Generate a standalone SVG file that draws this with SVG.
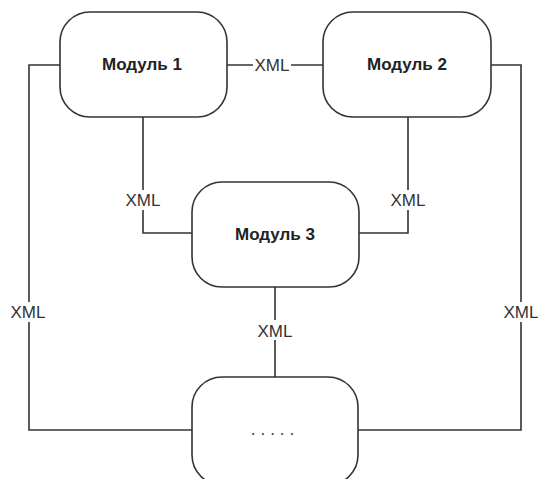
<svg xmlns="http://www.w3.org/2000/svg" width="538" height="479" viewBox="0 0 538 479">
<style>
.box{fill:#fff;stroke:#333;stroke-width:1.6}
.ln{fill:none;stroke:#333;stroke-width:1.6}
.t{font-family:"Liberation Sans",Arial,sans-serif;font-size:17px;font-weight:bold;fill:#222;text-anchor:middle}
.x{font-family:"Liberation Sans",Arial,sans-serif;font-size:17px;fill:#333;text-anchor:middle}
.lb{fill:#fff}
</style>
<rect width="538" height="479" fill="#fff"/>
<g id="connectors">
<path class="ln" d="M227,65 H323"/>
<path class="ln" d="M60,65 H29 V430 H192"/>
<path class="ln" d="M491,65 H521 V430 H358"/>
<path class="ln" d="M143,117 V233 H192"/>
<path class="ln" d="M408,117 V233 H359"/>
<path class="ln" d="M275,287 V377"/>
<rect class="lb" x="253" y="55" width="38" height="20"/>
<text class="x" x="272" y="71">XML</text>
<rect class="lb" x="124" y="190" width="38" height="20"/>
<text class="x" x="143" y="206">XML</text>
<rect class="lb" x="389" y="190" width="38" height="20"/>
<text class="x" x="408" y="206">XML</text>
<rect class="lb" x="256" y="320" width="38" height="20"/>
<text class="x" x="275" y="337">XML</text>
<rect class="lb" x="9" y="302" width="38" height="20"/>
<text class="x" x="28" y="318">XML</text>
<rect class="lb" x="502" y="302" width="38" height="20"/>
<text class="x" x="521" y="318">XML</text>
</g>
<g id="m1"><rect class="box" x="60" y="12" width="167" height="105" rx="30"/><text class="t" x="142" y="70">Модуль 1</text></g>
<g id="m2"><rect class="box" x="323" y="12" width="168" height="105" rx="30"/><text class="t" x="407" y="70">Модуль 2</text></g>
<g id="m3"><rect class="box" x="192" y="182" width="167" height="105" rx="30"/><text class="t" x="275" y="240">Модуль 3</text></g>
<g id="m4"><rect class="box" x="192" y="377" width="166" height="108" rx="30"/><text class="x" x="275" y="435" style="letter-spacing:5px">.....</text></g>
</svg>
